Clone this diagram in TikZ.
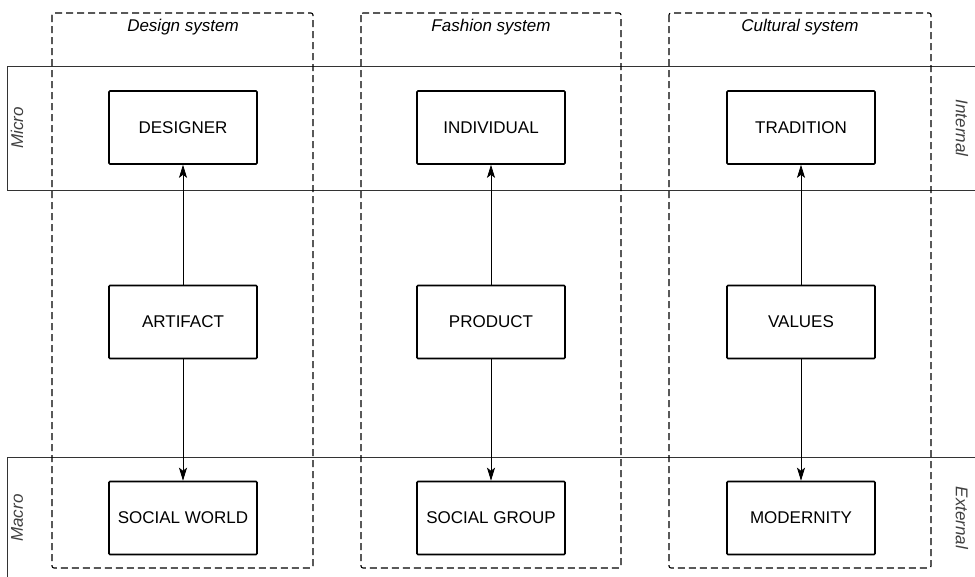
\documentclass[tikz,border=0pt]{standalone}
\usepackage{fontspec}
\setmainfont{Liberation Sans}
\usetikzlibrary{arrows.meta}
\begin{document}
\begin{tikzpicture}[x=1pt,y=-1pt,
  concept/.style={draw,line width=1.6pt,minimum width=148pt,minimum height=73pt,inner sep=0pt,font=\fontsize{17}{20}\selectfont,rounded corners=1pt},
  sysbox/.style={draw,dash pattern=on 7pt off 4pt,line width=1.1pt,rounded corners=2pt},
  band/.style={draw,line width=0.9pt,color=black!80},
  syslabel/.style={font=\fontsize{17}{20}\selectfont\itshape},
  sidelabel/.style={font=\fontsize{17}{20}\selectfont\itshape,text=black!75},
  link/.style={-{Stealth[length=13pt,width=8pt,inset=3pt]},line width=0.8pt}]
\useasboundingbox (0,0) rectangle (975,576);
\fill[white] (0,0) rectangle (975,576);

% horizontal bands: micro level and macro level
\draw[band] (976,66) -- (7,66) -- (7,190) -- (976,190);
\draw[band] (976,457) -- (7,457) -- (7,577);

% dashed system frames
\draw[sysbox] (52,13) rectangle (313,568);
\draw[sysbox] (361,13) rectangle (621,568);
\draw[sysbox] (669,13) rectangle (931,568);

% system titles
\node[syslabel] (t1) at (183,27) {Design system};
\node[syslabel] (t2) at (491,27) {Fashion system};
\node[syslabel] (t3) at (800,27) {Cultural system};

% band labels
\node[sidelabel,rotate=90] (micro) at (17,128) {Micro};
\node[sidelabel,rotate=90] (macro) at (17,518) {Macro};
\node[sidelabel,rotate=-90] (internal) at (962,128) {Internal};
\node[sidelabel,rotate=-90] (external) at (962,518) {External};

% concept boxes
\node[concept] (designer) at (183,127.5) {DESIGNER};
\node[concept] (artifact) at (183,322) {ARTIFACT};
\node[concept] (socworld) at (183,518) {SOCIAL WORLD};

\node[concept] (individual) at (491,127.5) {INDIVIDUAL};
\node[concept] (product) at (491,322) {PRODUCT};
\node[concept] (socgroup) at (491,518) {SOCIAL GROUP};

\node[concept] (tradition) at (801,127.5) {TRADITION};
\node[concept] (values) at (801,322) {VALUES};
\node[concept] (modernity) at (801,518) {MODERNITY};

% connectors
\draw[link] (artifact) -- (designer);
\draw[link] (artifact) -- (socworld);
\draw[link] (product) -- (individual);
\draw[link] (product) -- (socgroup);
\draw[link] (values) -- (tradition);
\draw[link] (values) -- (modernity);
\end{tikzpicture}
\end{document}
